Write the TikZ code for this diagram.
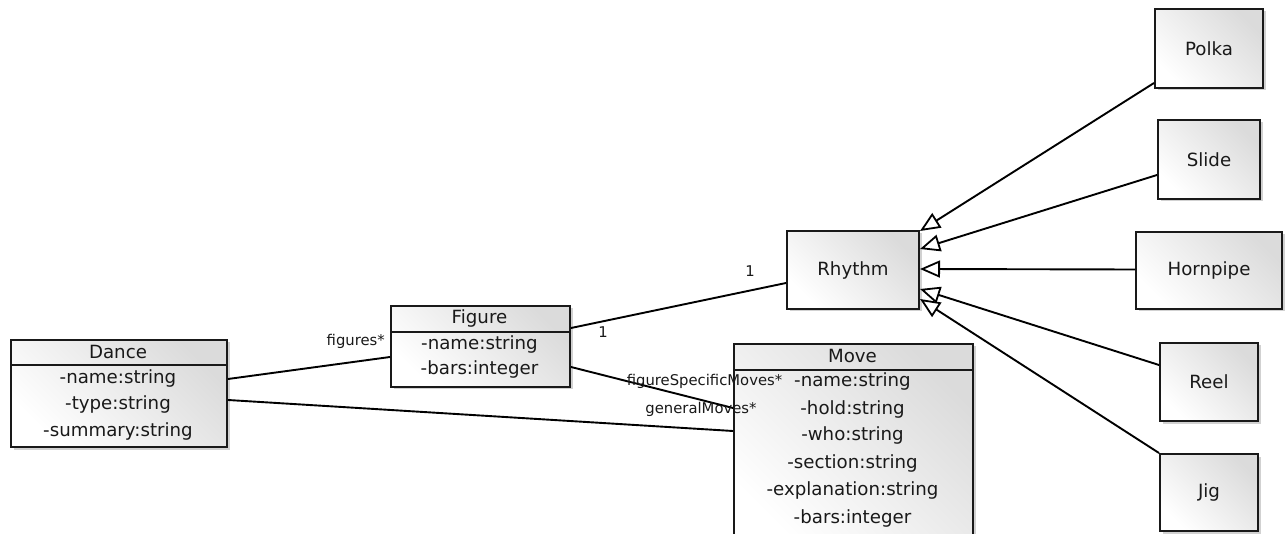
\documentclass[tikz,border=0pt]{standalone}
\usepackage{fontspec}
\setmainfont{DejaVu Sans}
\usetikzlibrary{arrows.meta,shadows}
\begin{document}
\begin{tikzpicture}[x=1pt,y=-1pt,
  box/.style={draw=black!90, line width=2pt, anchor=north west, inner sep=0pt,
    left color=white, right color=black!14, shading angle=135,
    drop shadow={shadow xshift=2.5pt, shadow yshift=-2.5pt, opacity=0.18, fill=black}},
  boxtxt/.style={font=\fontsize{18.2}{20}\selectfont, text=black!90, inner sep=0pt},
  lbl/.style={font=\fontsize{14.8}{16}\selectfont, text=black!90, inner sep=0pt},
  conn/.style={draw=black, line width=1.9pt},
  gen/.style={conn, -{Triangle[open, length=20pt, width=17pt, line width=1.8pt, fill=white]}}
]
\clip (0,0) rectangle (1285,534);
\fill[white] (0,0) rectangle (1285,534);

% Dance
\node[box, minimum width=216pt, minimum height=107pt] (dance) at (10,339) {};
\draw[line width=1.8pt, draw=black!90] ([yshift=-26pt]dance.north west) -- ([yshift=-26pt]dance.north east);
\node[boxtxt] (dancet) at (118,352) {Dance};
\node[boxtxt] (dancea1) at (118,378) {-name:string};
\node[boxtxt] (dancea2) at (118,404) {-type:string};
\node[boxtxt] (dancea3) at (118,431) {-summary:string};

% Figure
\node[box, minimum width=179pt, minimum height=81pt] (figure) at (390,305) {};
\draw[line width=1.8pt, draw=black!90] ([yshift=-27pt]figure.north west) -- ([yshift=-27pt]figure.north east);
\node[boxtxt] (figuret) at (479.5,318) {Figure};
\node[boxtxt] (figurea1) at (479.5,344) {-name:string};
\node[boxtxt] (figurea2) at (479.5,369) {-bars:integer};

% Move
\node[box, minimum width=239pt, minimum height=205pt] (move) at (733,343) {};
\draw[line width=1.8pt, draw=black!90] ([yshift=-27pt]move.north west) -- ([yshift=-27pt]move.north east);
\node[boxtxt] (movet) at (852.5,356) {Move};
\node[boxtxt] (movea1) at (852.5,381) {-name:string};
\node[boxtxt] (movea2) at (852.5,409) {-hold:string};
\node[boxtxt] (movea3) at (852.5,435) {-who:string};
\node[boxtxt] (movea4) at (852.5,463) {-section:string};
\node[boxtxt] (movea5) at (852.5,490) {-explanation:string};
\node[boxtxt] (movea6) at (852.5,518) {-bars:integer};

% Rhythm and subclasses
\node[box, minimum width=132pt, minimum height=78pt] (rhythm) at (786,230) {};
\node[boxtxt] (rhythmt) at (rhythm.center) {Rhythm};
\node[box, minimum width=108pt, minimum height=79pt] (polka) at (1154,8) {};
\node[boxtxt] (polkat) at (polka.center) {Polka};
\node[box, minimum width=102pt, minimum height=79pt] (slide) at (1157,119) {};
\node[boxtxt] (slidet) at (slide.center) {Slide};
\node[box, minimum width=146pt, minimum height=77pt] (hornpipe) at (1135,231) {};
\node[boxtxt] (hornpipet) at (hornpipe.center) {Hornpipe};
\node[box, minimum width=98pt, minimum height=78pt] (reel) at (1159,342) {};
\node[boxtxt] (reelt) at (reel.center) {Reel};
\node[box, minimum width=98pt, minimum height=77pt] (jig) at (1159,453) {};
\node[boxtxt] (jigt) at (jig.center) {Jig};

% Associations
\draw[conn] ([yshift=-40pt]dance.north east) -- ([yshift=-52pt]figure.north west);
\draw[conn] ([yshift=-61pt]dance.north east) -- ([yshift=-88pt]move.north west);
\draw[conn] ([yshift=-23pt]figure.north east) -- ([yshift=-53pt]rhythm.north west);
\draw[conn] ([yshift=-62pt]figure.north east) -- ([yshift=-65pt]move.north west);

\node[lbl, anchor=east] (lfig) at (385,341) {figures*};
\node[lbl] (l1a) at (603,332) {1};
\node[lbl] (l1b) at (750,271) {1};
\node[lbl] (lfsm) at (704.5,381) {figureSpecificMoves*};
\node[lbl] (lgm) at (701,409) {generalMoves*};

% Generalizations
\draw[gen] ([yshift=6pt]polka.south west) -- ([yshift=-1pt]rhythm.north east);
\draw[gen] ([yshift=25pt]slide.south west) -- ([yshift=-19pt]rhythm.north east);
\draw[gen] ([yshift=-38.5pt]hornpipe.north west) -- ([yshift=-39pt]rhythm.north east);
\draw[gen] ([yshift=-23pt]reel.north west) -- ([yshift=-59pt]rhythm.north east);
\draw[gen] (jig.north west) -- ([yshift=-69pt]rhythm.north east);
\end{tikzpicture}
\end{document}
